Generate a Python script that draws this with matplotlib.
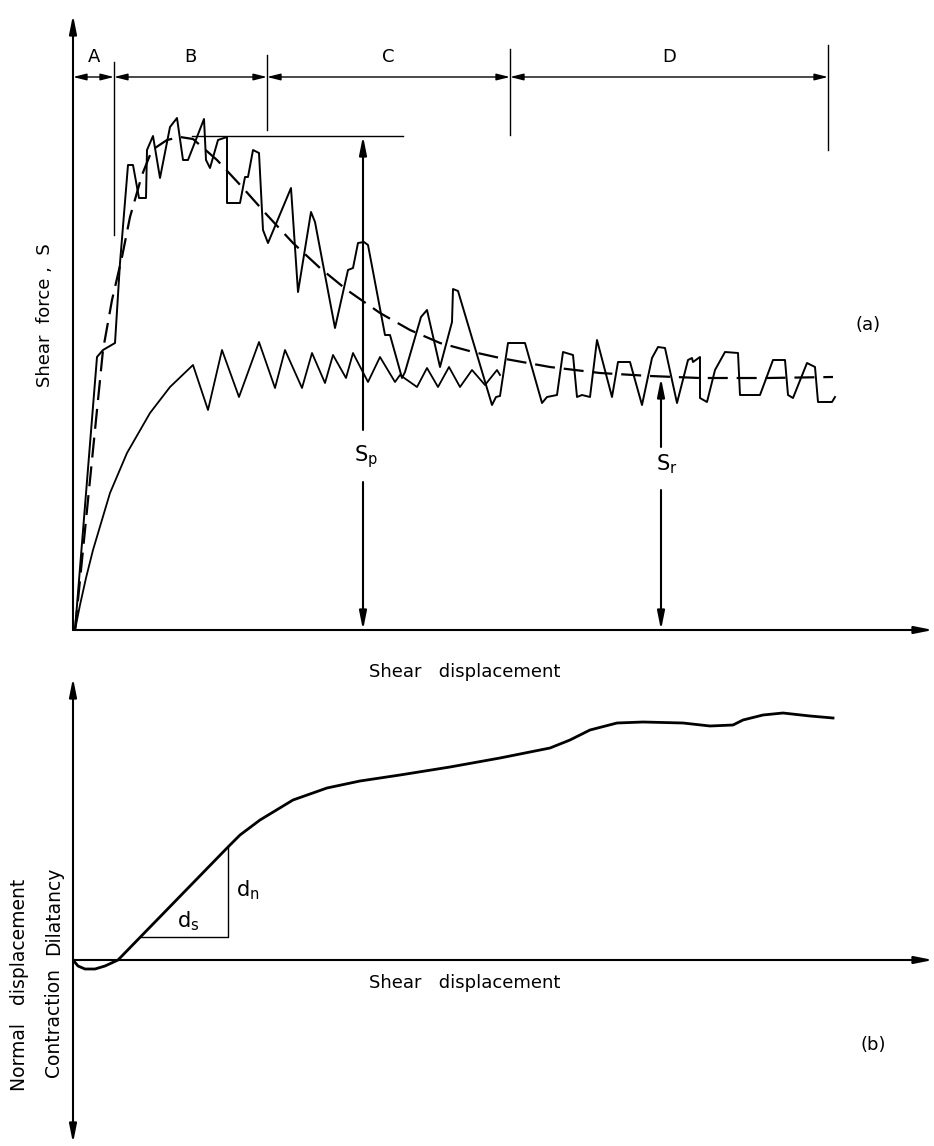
import numpy as np
import matplotlib.pyplot as plt

# ---------------- (a) shear force vs shear displacement ----------------
# jagged peak-type record
peak_x = [0.2, 2.4, 3.0, 4.2, 4.7, 5.5, 6.0, 6.6, 7.3, 7.4, 8.0, 8.7, 9.7, 10.4, 11.0, 11.5,
          13.1, 13.3, 13.7, 14.5, 15.4, 15.4, 16.7, 17.2, 17.5, 18.0, 18.6, 19.0, 19.5, 21.8,
          22.5, 23.8, 24.2, 26.2, 27.5, 28.0, 28.5, 29.1, 29.5, 31.2, 31.7, 32.4, 32.9, 33.2,
          34.8, 35.4, 36.7, 37.9, 38.0, 38.5, 41.9, 42.3, 42.7, 43.5, 45.2, 46.9, 47.4, 48.4,
          49.0, 50.0, 50.4, 50.9, 51.7, 52.4, 53.9, 54.5, 55.7, 56.9, 57.9, 58.5, 59.2, 60.4,
          61.5, 61.9, 62.0, 62.7, 62.7, 63.4, 64.2, 65.2, 66.5, 66.7, 68.7, 70.0, 71.2, 71.5,
          72.0, 73.4, 74.2, 74.5, 75.9, 76.2]
peak_y = [0.0, 27.3, 28.0, 28.7, 36.7, 46.5, 46.5, 43.2, 43.2, 48.0, 49.4, 45.2, 50.3, 51.2, 47.0, 47.0,
          51.1, 47.0, 46.2, 49.0, 49.3, 42.7, 42.7, 45.3, 45.3, 48.0, 47.7, 40.0, 38.7, 44.2,
          33.8, 41.8, 40.8, 30.2, 36.0, 36.2, 38.7, 38.8, 38.5, 29.5, 29.5, 27.0, 25.2, 25.8,
          31.3, 32.0, 26.3, 30.8, 34.1, 33.9, 22.5, 23.3, 23.4, 28.7, 28.7, 22.7, 23.3, 23.5,
          27.8, 27.5, 23.3, 23.5, 23.3, 29.0, 23.3, 26.8, 26.8, 22.5, 27.2, 28.3, 28.2, 22.7,
          27.0, 27.2, 26.8, 27.3, 23.2, 22.8, 26.0, 27.8, 27.7, 23.5, 23.5, 27.0, 27.0, 23.5,
          23.2, 26.7, 26.3, 22.8, 22.8, 23.3]

# mean (dashed) curve
mean_x = [0.2, 0.7, 1.5, 2.3, 3.0, 3.9, 4.9, 5.7, 6.9, 7.9, 9.4, 10.7, 12.0, 14.4, 17.0, 19.4,
          22.0, 24.7, 27.4, 30.7, 33.7, 36.7, 40.0, 42.7, 47.7, 52.7, 57.7, 62.7, 69.4, 76.0]
mean_y = [0.0, 5.0, 13.0, 21.0, 28.0, 33.0, 37.3, 41.3, 45.5, 48.0, 49.0, 49.3, 49.1, 47.0, 44.2, 41.5,
          38.7, 36.2, 34.0, 31.7, 30.0, 28.7, 27.8, 27.2, 26.3, 25.7, 25.4, 25.2, 25.2, 25.3]

# stick-slip record without peak
slip_x = [0.2, 0.7, 1.3, 2.0, 3.7, 5.4, 7.7, 9.7, 12.0, 13.5, 14.9, 16.6, 18.6, 20.2, 21.2, 22.9,
          23.9, 25.2, 26.0, 27.3, 28.0, 29.5, 30.7, 32.2, 32.7, 34.4, 35.4, 36.5, 37.6, 38.7,
          39.9, 41.2, 42.4, 42.7]
slip_y = [0.0, 2.5, 5.2, 8.0, 13.7, 17.7, 21.7, 24.3, 26.5, 22.0, 28.0, 23.3, 28.8, 24.2, 28.0, 24.2,
          27.7, 24.7, 27.5, 25.2, 27.7, 24.8, 27.3, 24.8, 25.5, 24.3, 26.2, 24.3, 26.3, 24.3,
          26.0, 24.5, 26.0, 25.5]

zone_labels = ["A", "B", "C", "D"]
zone_edges = [0.0, 4.1, 19.4, 43.7, 75.5]
S_p = 49.4
S_r = 25.2
x_Sp = 29.0
x_Sr = 58.8

# ---------------- (b) normal displacement vs shear displacement ----------------
norm_x = [0.0, 0.5, 1.2, 2.2, 3.2, 4.5, 15.5, 16.7, 18.7, 22.0, 25.4, 28.7, 32.7, 37.7, 42.7,
          47.7, 49.7, 51.7, 54.4, 57.0, 61.0, 63.7, 66.0, 67.0, 69.0, 71.0, 73.7, 76.0]
norm_y = [0.0, -0.6, -0.9, -0.9, -0.6, 0.0, 11.3, 12.5, 14.0, 16.0, 17.2, 17.9, 18.5, 19.3, 20.2,
          21.2, 22.0, 23.0, 23.7, 23.8, 23.7, 23.4, 23.5, 24.0, 24.5, 24.7, 24.4, 24.2]
dil_base = 2.3

W, H = 934, 1146
fig = plt.figure(figsize=(W / 100, H / 100), dpi=100)
plt.rcParams['font.family'] = 'DejaVu Sans'

ax = fig.add_axes([73 / W, (H - 630) / H, 861 / W, 620 / H])
ax.set_xlim(0, 86.1)
ax.set_ylim(0, 62.0)
ax.axis('off')

axis_arrow = dict(arrowstyle='-|>,head_length=1.1,head_width=0.22', color='k', lw=1.5,
                  shrinkA=0, shrinkB=0)
dim_arrow = dict(arrowstyle='<|-|>,head_length=0.8,head_width=0.2', color='k', lw=1.0,
                 shrinkA=0, shrinkB=0)

ax.annotate('', xy=(0, 61.5), xytext=(0, 0), arrowprops=axis_arrow, annotation_clip=False)
ax.annotate('', xy=(86.0, 0), xytext=(0, 0), arrowprops=axis_arrow, annotation_clip=False)

ax.plot(peak_x, peak_y, color='k', lw=1.4)
ax.plot(slip_x, slip_y, color='k', lw=1.3)
ax.plot(mean_x, mean_y, color='k', lw=1.6, dashes=(9, 4))

# zone dimension line
dim_y = 55.3
for i, lab in enumerate(zone_labels):
    ax.annotate('', xy=(zone_edges[i + 1], dim_y), xytext=(zone_edges[i], dim_y),
                arrowprops=dim_arrow)
    ax.text((zone_edges[i] + zone_edges[i + 1]) / 2 if i else 2.1, 57.3, lab,
            ha='center', va='center', fontsize=13)
tick_top = [56.8, 57.5, 58.1, 58.5]
tick_bot = [39.5, 50.0, 49.5, 48.0]
for xe, t0, t1 in zip(zone_edges[1:], tick_top, tick_bot):
    ax.plot([xe, xe], [t1, t0], color='k', lw=1.0)

# S_p and S_r dimensions
ax.plot([11.9, 33.0], [S_p, S_p], color='k', lw=1.0)
ax.annotate('', xy=(x_Sp, S_p), xytext=(x_Sp, 20.0), arrowprops=axis_arrow)
ax.annotate('', xy=(x_Sp, 0), xytext=(x_Sp, 14.8), arrowprops=axis_arrow)
ax.text(x_Sp + 0.3, 17.3, r'$\mathregular{S_p}$', ha='center', va='center', fontsize=15)
ax.annotate('', xy=(x_Sr, S_r), xytext=(x_Sr, 18.3), arrowprops=axis_arrow)
ax.annotate('', xy=(x_Sr, 0), xytext=(x_Sr, 14.0), arrowprops=axis_arrow)
ax.text(x_Sr + 0.6, 16.6, r'$\mathregular{S_r}$', ha='center', va='center', fontsize=15)

ax.text(-2.8, 31.5, 'Shear  force ,  S', rotation=90, ha='center', va='center', fontsize=13)
ax.text(39.2, -4.2, 'Shear   displacement', ha='center', va='center', fontsize=13)
ax.text(79.5, 30.5, '(a)', ha='center', va='center', fontsize=13)

# ---------------- panel (b) ----------------
bx = fig.add_axes([73 / W, 0, 861 / W, 486 / H])
bx.set_xlim(0, 86.1)
bx.set_ylim(-18.6, 30.0)
bx.axis('off')

dbl_arrow = dict(arrowstyle='<|-|>,head_length=1.1,head_width=0.22', color='k', lw=1.5,
                 shrinkA=0, shrinkB=0)
bx.annotate('', xy=(0, 28.2), xytext=(0, -18.3), arrowprops=dbl_arrow, annotation_clip=False)
bx.annotate('', xy=(86.0, 0), xytext=(0, 0), arrowprops=axis_arrow, annotation_clip=False)

bx.plot(norm_x, norm_y, color='k', lw=2.0)

# slope triangle d_n / d_s
knee_x, knee_y = norm_x[6], norm_y[6]
base_x0 = norm_x[5] + dil_base * (knee_x - norm_x[5]) / knee_y
bx.plot([base_x0, knee_x, knee_x], [dil_base, dil_base, knee_y], color='k', lw=1.0)
bx.text(11.5, dil_base + 0.4, r'$\mathregular{d_s}$', ha='center', va='bottom', fontsize=15)
bx.text(knee_x + 0.8, 7.0, r'$\mathregular{d_n}$', ha='left', va='center', fontsize=15)

bx.text(39.2, -2.3, 'Shear   displacement', ha='center', va='center', fontsize=13)
bx.text(80.0, -8.5, '(b)', ha='center', va='center', fontsize=13)
bx.text(-5.3, -2.5, 'Normal   displacement', rotation=90, ha='center', va='center', fontsize=13.5)
bx.text(-1.9, 0.5, 'Dilatancy', rotation=90, ha='center', va='bottom', fontsize=13.5)
bx.text(-1.9, -0.8, 'Contraction', rotation=90, ha='center', va='top', fontsize=13.5)

fig.savefig('out.png', dpi=100)
